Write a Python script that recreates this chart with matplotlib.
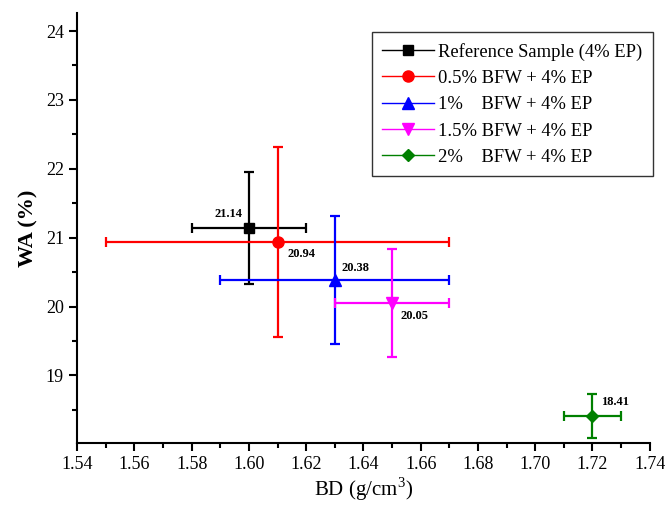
import matplotlib
matplotlib.use("Agg")
import matplotlib.pyplot as plt
from matplotlib.lines import Line2D
from matplotlib.ticker import MultipleLocator

plt.rcParams["font.family"] = ["Liberation Serif", "DejaVu Serif"]
plt.rcParams["mathtext.fontset"] = "custom"
plt.rcParams["mathtext.rm"] = "Liberation Serif"

# Data
labels = ["Reference Sample (4% EP)", "0.5% BFW + 4% EP", "1%    BFW + 4% EP",
          "1.5% BFW + 4% EP", "2%    BFW + 4% EP"]
bd = [1.60, 1.61, 1.63, 1.65, 1.72]
bd_err = [0.02, 0.06, 0.04, 0.02, 0.01]
wa = [21.14, 20.94, 20.38, 20.05, 18.41]
wa_err = [0.82, 1.38, 0.93, 0.79, 0.32]
colors = ["black", "red", "blue", "magenta", "green"]
markers = ["s", "o", "^", "v", "D"]
marker_sizes = [7, 8, 8, 8, 6.5]
# offsets (points) of value labels
label_offsets = [(-15, 10), (17, -9), (15, 9), (16, -9), (16, 10)]

fig = plt.figure(figsize=(6.65, 5.05), dpi=100)
ax = fig.add_axes([0.116, 0.123, 0.861, 0.851])

handles = []
for x, xe, y, ye, c, m, ms, off in zip(bd, bd_err, wa, wa_err, colors,
                                       markers, marker_sizes, label_offsets):
    ax.errorbar(x, y, xerr=xe, yerr=ye, fmt=m, color=c, ecolor=c,
                markersize=ms, elinewidth=1.6, capsize=3.5, capthick=1.6)
    ax.annotate(f"{y:.2f}", (x, y), xytext=off, textcoords="offset points",
                ha="center", va="center", fontsize=9, fontweight="bold")
    handles.append(Line2D([], [], color=c, marker=m, markersize=ms, lw=1))

ax.legend(handles, labels, loc="upper right", bbox_to_anchor=(1.005, 0.955),
          fontsize=13.4, frameon=True, fancybox=False, edgecolor="black",
          handlelength=2.8, handletextpad=0.2, labelspacing=0.5,
          borderpad=0.55, borderaxespad=0).get_frame().set_linewidth(1.0)

ax.set_xlim(1.54, 1.74)
ax.set_ylim(18.02, 24.26)
ax.xaxis.set_major_locator(MultipleLocator(0.02))
ax.xaxis.set_minor_locator(MultipleLocator(0.01))
ax.yaxis.set_major_locator(MultipleLocator(1))
ax.yaxis.set_minor_locator(MultipleLocator(0.5))
ax.set_yticks([19, 20, 21, 22, 23, 24])
ax.xaxis.set_major_formatter(plt.FuncFormatter(lambda v, p: f"{v:.2f}"))

for side in ["top", "right"]:
    ax.spines[side].set_visible(False)
for side in ["left", "bottom"]:
    ax.spines[side].set_linewidth(1.5)
ax.tick_params(which="major", length=6, width=1.5, labelsize=13, direction="out")
ax.tick_params(which="minor", length=3.5, width=1.5, direction="out")

ax.set_xlabel("BD (g/cm$^\\mathrm{3}$)", fontsize=15, labelpad=2)
ax.set_ylabel("WA (%)", fontsize=16, fontweight="bold", labelpad=5)

fig.savefig("out.png", dpi=100)
